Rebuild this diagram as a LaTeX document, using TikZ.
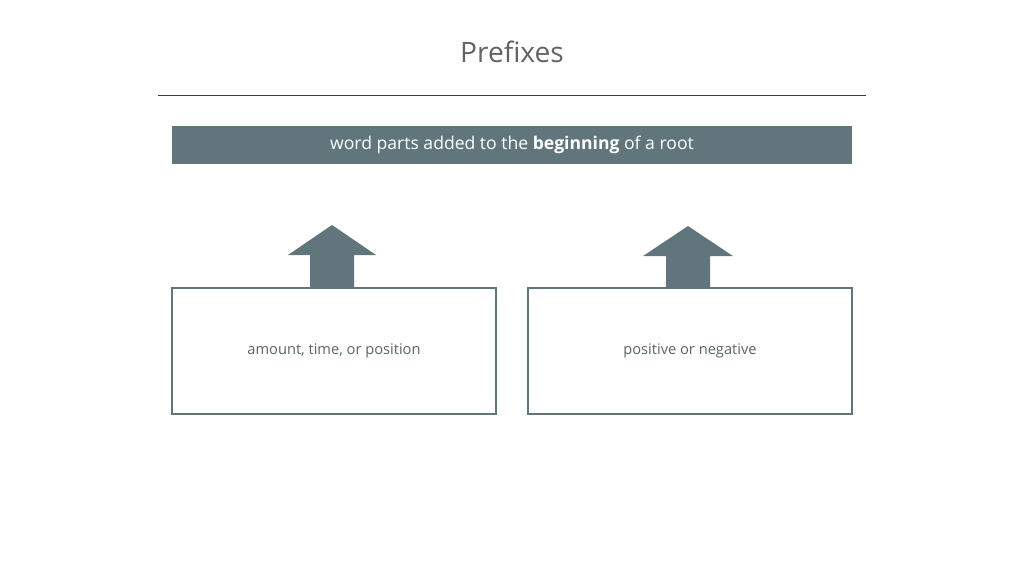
\documentclass[tikz,border=0pt]{standalone}
\usepackage{fontspec}
\setmainfont{Open Sans}
\usetikzlibrary{positioning}
\definecolor{slate}{RGB}{96,118,124}
\definecolor{rule_gray}{RGB}{60,60,60}
\definecolor{text_gray}{RGB}{90,100,105}

\begin{document}
\begin{tikzpicture}[x=0.03cm,y=-0.03cm]
    \tikzstyle{banner}=[fill=slate, draw=none, minimum width=680*0.03cm, minimum height=38*0.03cm, text=white, font=\fontsize{15}{18}\selectfont]
    \tikzstyle{box}=[draw=slate, line width=1.8pt, fill=white, minimum width=324*0.03cm, minimum height=126*0.03cm, text=text_gray, font=\fontsize{12.5}{15}\selectfont]
    \tikzstyle{uparrow}=[fill=slate, draw=none]

    \useasboundingbox[fill=white] (0,0) rectangle (1024,576);

    \node[font=\fontsize{24}{28}\selectfont, text=rule_gray!80] (title) at (512,52) {Prefixes};
    \draw[rule_gray, line width=0.6pt] (158,95) -- (866,95);

    \node[banner] (def) at (512,145) {word parts added to the \textbf{beginning} of a root};

    \fill[uparrow] (310,288) -- (310,255) -- (288,255) -- (332,225) -- (376,255) -- (354,255) -- (354,288) -- cycle;
    \fill[uparrow] (666,288) -- (666,256) -- (643,256) -- (688,226) -- (733,256) -- (710,256) -- (710,288) -- cycle;

    \node[box] (amount) at (334,351) {amount, time, or position};
    \node[box] (sign)   at (690,351) {positive or negative};
\end{tikzpicture}
\end{document}
